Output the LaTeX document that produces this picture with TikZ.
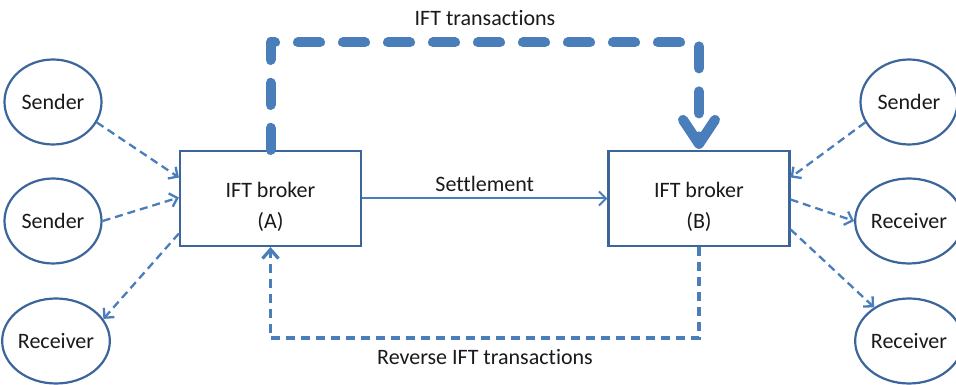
\documentclass[tikz,border=0pt]{standalone}
\usepackage{fontspec}
\setmainfont[Ligatures=NoCommon]{Carlito}
\usetikzlibrary{arrows.meta,shapes.geometric,calc}
\definecolor{edgeblue}{HTML}{3C659C}
\definecolor{arrblue}{HTML}{4A7EBB}
\definecolor{txt}{HTML}{1A1A1A}
\tikzset{
  party/.style={ellipse,draw=edgeblue,line width=2.2pt,minimum width=97pt,minimum height=85pt,inner sep=0pt,text=txt,font=\fontsize{22}{26}\selectfont},
  broker/.style={rectangle,draw=edgeblue,line width=2.2pt,minimum width=181pt,minimum height=95pt,inner sep=0pt,text=txt,align=center,font=\fontsize{22}{31}\selectfont},
  thinflow/.style={draw=arrblue,line width=2.3pt,dash pattern=on 8pt off 5pt,-{Straight Barb[length=7pt 0,width=14pt 0]}},
  revflow/.style={draw=arrblue,line width=3.2pt,dash pattern=on 9pt off 6pt,-{Straight Barb[length=9pt 0,width=16pt 0]}},
  bigflow/.style={draw=arrblue,line width=10pt,line cap=round,line join=round,dash pattern=on 22pt off 23pt,-{Straight Barb[length=24pt 0,width=32pt 0,round]}},
  settle/.style={draw=arrblue,line width=2pt,-{Straight Barb[length=7pt 0,width=14pt 0]}},
  lbl/.style={text=txt,font=\fontsize{22}{26}\selectfont,inner sep=0pt}
}
\begin{document}
\begin{tikzpicture}[x=1pt,y=1pt]
\path[use as bounding box,fill=white] (0,0) rectangle (956,385);
% left parties
\node[party] (s1) at (53,283) {Sender};
\node[party] (s2) at (53,164) {Sender};
\node[party] (r1) at (56,44) {Receiver};
% right parties
\node[party] (rs1) at (909,283) {Sender};
\node[party] (rr1) at (909,164) {Receiver};
\node[party] (rr2) at (909,44) {Receiver};
% brokers
\node[broker] (A) at (270.5,186.5) {\rule{0pt}{32pt}IFT broker\\(A)};
\node[broker] (B) at (699,186.5) {\rule{0pt}{32pt}IFT broker\\(B)};
% labels
\node[lbl] (tl) at (485,367) {IFT transactions};
\node[lbl] (rl) at (485,28) {Reverse IFT transactions};
% settlement
\draw[settle] (A.east) -- node[lbl,above=6pt] (sl) {Settlement} (B.west);
% IFT transactions (thick dashed)
\draw[bigflow] (A.north) -- ++(0,107.5) -| ([yshift=1pt]B.north);
% reverse
\draw[revflow] (B.south) -- ++(0,-91) -| (A.south);
% side arrows
\draw[thinflow] (s1.-25) -- ([yshift=21pt]A.west);
\draw[thinflow] (s2.east) -- ([yshift=1pt]A.west);
\draw[thinflow] ([yshift=-35pt]A.west) -- (r1.25);
\draw[thinflow] (rs1.205) -- ([yshift=21pt]B.east);
\draw[thinflow] ([yshift=-1pt]B.east) -- (rr1.west);
\draw[thinflow] ([yshift=-31pt]B.east) -- (rr2.136);
\end{tikzpicture}
\end{document}
